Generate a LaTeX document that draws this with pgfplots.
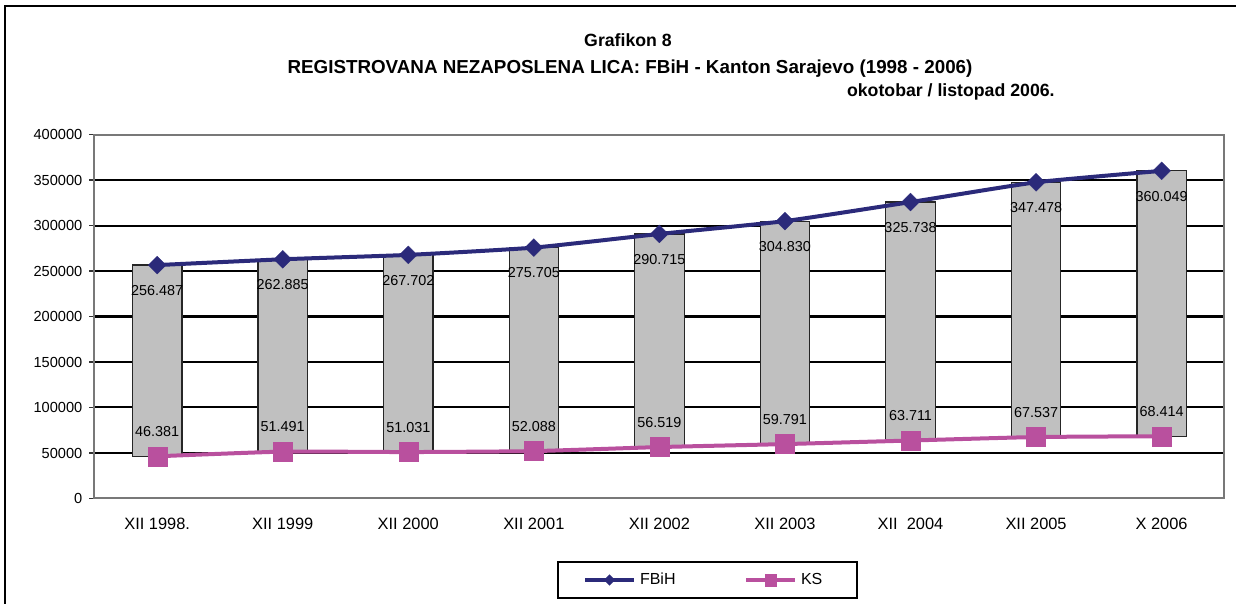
\documentclass[border=0pt]{standalone}
\usepackage{fontspec}
\setmainfont{Liberation Sans}
\usepackage{pgfplots}
\pgfplotsset{compat=1.18}
\usepackage{pgfplotstable}
\definecolor{navy}{RGB}{43,42,122}
\definecolor{ksmag}{RGB}{185,80,158}
\definecolor{boxgray}{RGB}{192,192,192}
\definecolor{axgray}{RGB}{120,120,120}

\pgfplotstableread{
x fbih ks fl kl
0 256487 46381 256.487 46.381
1 262885 51491 262.885 51.491
2 267702 51031 267.702 51.031
3 275705 52088 275.705 52.088
4 290715 56519 290.715 56.519
5 304830 59791 304.830 59.791
6 325738 63711 325.738 63.711
7 347478 67537 347.478 67.537
8 360049 68414 360.049 68.414
}\data

\begin{document}
\begin{tikzpicture}
\path[use as bounding box] (0,0) rectangle (618pt,302pt);
\draw[line width=1pt] (2.5pt,0pt) -- (2.5pt,299pt) -- (618pt,299pt);
\node[font=\bfseries\fontsize{8.85}{10}\selectfont] at (314pt,282pt) {Grafikon 8};
\node[font=\bfseries\fontsize{9.4}{10}\selectfont] at (315pt,267.5pt) {REGISTROVANA NEZAPOSLENA LICA: FBiH - Kanton Sarajevo (1998 - 2006)};
\node[font=\bfseries\fontsize{8.85}{10}\selectfont, anchor=east, inner xsep=0pt] at (527.5pt,256pt) {okotobar / listopad 2006.};
\begin{axis}[
  at={(47.2pt,52.75pt)}, anchor=south west,
  scale only axis, width=565pt, height=182pt,
  xmin=-0.5, xmax=8.5, ymin=0, ymax=400000,
  xtick={0,...,8},
  xticklabels={XII 1998., XII 1999, XII 2000, XII 2001, XII 2002, XII 2003, {XII\ \ 2004}, XII 2005, X 2006},
  minor xtick={-0.5,0.5,...,8.5},
  ytick={0,50000,...,400000},
  scaled y ticks=false,
  /pgf/number format/.cd, fixed, 1000 sep={}, assume math mode=true, /pgfplots/.cd,
  tick pos=left, tick align=outside,
  major tick length=2.5pt, minor tick length=2.5pt,
  xtick style={draw=none},
  minor x tick style={black!80, line width=0.6pt},
  ytick style={black!80, line width=0.6pt},
  axis line style={axgray, line width=1pt},
  ymajorgrids, major grid style={black, line width=1pt},
  yticklabel style={font=\fontsize{7.3}{8}\selectfont},
  xticklabel style={font=\fontsize{8.2}{9}\selectfont, yshift=-3.5pt},
  legend columns=2,
  legend style={draw=black, line width=1pt, at={(0.5426,-0.2239)}, anchor=center,
    font=\fontsize{8}{9}\selectfont, inner xsep=12.5pt, inner ysep=3.5pt,
    /tikz/every even column/.append style={column sep=0pt}},
  legend image code/.code={\draw[mark repeat=2,mark phase=2,#1, every mark/.append style={scale=0.6}] plot coordinates {(0pt,0pt) (12.25pt,0pt) (24.5pt,0pt)};},
]
\addplot[forget plot, fill=boxgray, draw=black!85, line width=0.6pt] coordinates {(-0.197,46381) (0.197,46381) (0.197,256487) (-0.197,256487)} -- cycle;
\addplot[forget plot, fill=boxgray, draw=black!85, line width=0.6pt] coordinates {(0.803,51491) (1.197,51491) (1.197,262885) (0.803,262885)} -- cycle;
\addplot[forget plot, fill=boxgray, draw=black!85, line width=0.6pt] coordinates {(1.803,51031) (2.197,51031) (2.197,267702) (1.803,267702)} -- cycle;
\addplot[forget plot, fill=boxgray, draw=black!85, line width=0.6pt] coordinates {(2.803,52088) (3.197,52088) (3.197,275705) (2.803,275705)} -- cycle;
\addplot[forget plot, fill=boxgray, draw=black!85, line width=0.6pt] coordinates {(3.803,56519) (4.197,56519) (4.197,290715) (3.803,290715)} -- cycle;
\addplot[forget plot, fill=boxgray, draw=black!85, line width=0.6pt] coordinates {(4.803,59791) (5.197,59791) (5.197,304830) (4.803,304830)} -- cycle;
\addplot[forget plot, fill=boxgray, draw=black!85, line width=0.6pt] coordinates {(5.803,63711) (6.197,63711) (6.197,325738) (5.803,325738)} -- cycle;
\addplot[forget plot, fill=boxgray, draw=black!85, line width=0.6pt] coordinates {(6.803,67537) (7.197,67537) (7.197,347478) (6.803,347478)} -- cycle;
\addplot[forget plot, fill=boxgray, draw=black!85, line width=0.6pt] coordinates {(7.803,68414) (8.197,68414) (8.197,360049) (7.803,360049)} -- cycle;

\addplot[navy, line width=2pt, smooth, tension=0.3, mark=square*, mark size=3.18pt,
  mark options={rotate=45, fill=navy, draw=navy, line width=0.1pt},
  nodes near coords, point meta=explicit symbolic,
  every node near coord/.append style={font=\fontsize{7.2}{8}\selectfont, text=black, yshift=-12.6pt, anchor=center}]
  table[x=x, y=fbih, meta=fl] {\data};
\addlegendentry{\makebox[50pt][l]{FBiH}}
\addplot[ksmag, line width=2pt, smooth, tension=0.3, mark=square*, mark size=4.75pt,
  mark options={fill=ksmag, draw=ksmag, line width=0.1pt},
  nodes near coords, point meta=explicit symbolic,
  every node near coord/.append style={font=\fontsize{7.2}{8}\selectfont, text=black, yshift=12.3pt, anchor=center}]
  table[x=x, y=ks, meta=kl] {\data};
\addlegendentry{\makebox[13.5pt][l]{KS}}
\end{axis}
\end{tikzpicture}
\end{document}
